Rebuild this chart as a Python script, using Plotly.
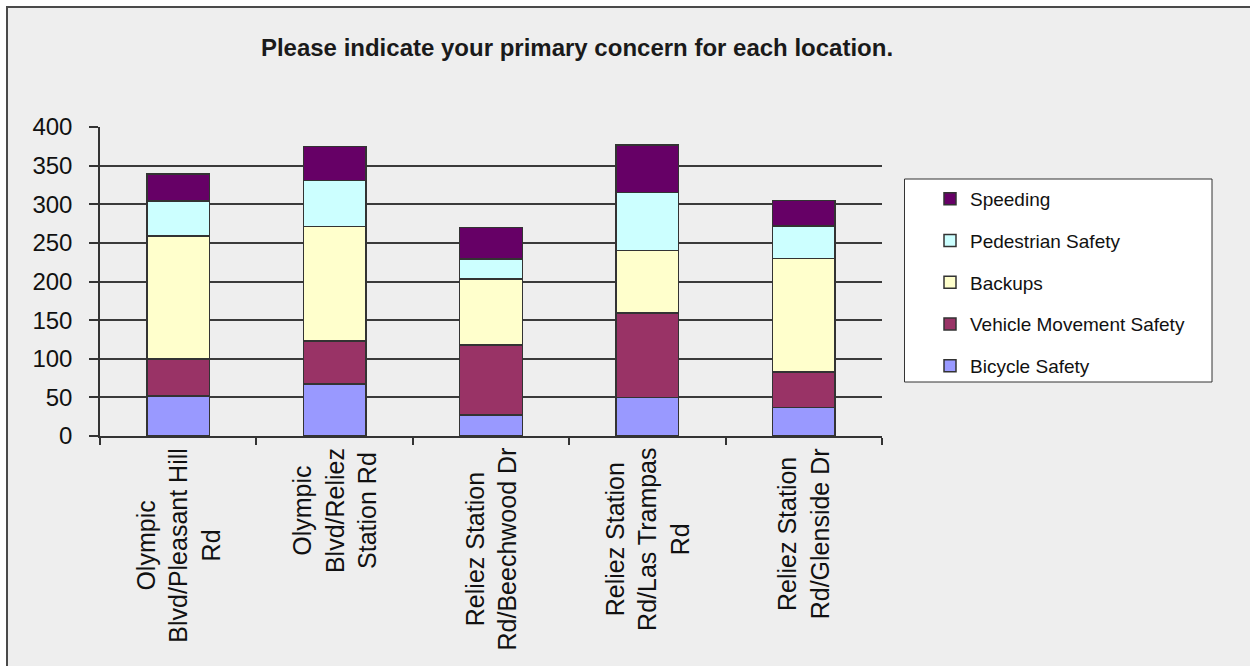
import plotly.graph_objects as go

# ---- data ----
categories = [
    "Olympic Blvd/Pleasant Hill Rd",
    "Olympic Blvd/Reliez Station Rd",
    "Reliez Station Rd/Beechwood Dr",
    "Reliez Station Rd/Las Trampas Rd",
    "Reliez Station Rd/Glenside Dr",
]
category_labels = [
    "Olympic<br>Blvd/Pleasant Hill<br>Rd",
    "Olympic<br>Blvd/Reliez<br>Station Rd",
    "Reliez Station<br>Rd/Beechwood Dr",
    "Reliez Station<br>Rd/Las Trampas<br>Rd",
    "Reliez Station<br>Rd/Glenside Dr",
]
bicycle_safety = [52, 67, 27, 50, 37]
vehicle_movement_safety = [48, 56, 91, 109, 46]
backups = [159, 148, 85, 81, 147]
pedestrian_safety = [45, 60, 26, 75, 42]
speeding = [35, 44, 41, 62, 33]

series = [
    ("Bicycle Safety", bicycle_safety, "#9999FF"),
    ("Vehicle Movement Safety", vehicle_movement_safety, "#993366"),
    ("Backups", backups, "#FFFFCC"),
    ("Pedestrian Safety", pedestrian_safety, "#CCFFFF"),
    ("Speeding", speeding, "#660066"),
]

FONT = "Liberation Sans, Arial, sans-serif"
W, H = 1250, 666
L, R, T, B = 100, 368, 127, 230
PW, PH = W - L - R, H - T - B


def px_x(p):
    return (p - L) / PW


def px_y(p):
    return (H - B - p) / PH


fig = go.Figure()
n = len(series)
for i, (name, vals, color) in enumerate(series):
    fig.add_trace(go.Bar(
        x=categories, y=vals, name=name, legendgroup=name,
        legendrank=(n - i) * 10,
        marker=dict(color=color, line=dict(color="#333333", width=1.5)),
    ))

shapes = [
    # chart area background with border at top/left
    dict(type="rect", xref="paper", yref="paper",
         x0=px_x(7), x1=px_x(1300), y0=px_y(720), y1=px_y(7),
         fillcolor="#EEEEEE", line=dict(color="#4a4a4a", width=2), layer="below"),
    # legend box
    dict(type="rect", xref="paper", yref="paper",
         x0=px_x(904.5), x1=px_x(1212), y0=px_y(382), y1=px_y(179),
         fillcolor="#FFFFFF", line=dict(color="#333333", width=1), layer="below"),
]

annotations = []
for cat, lab in zip(categories, category_labels):
    annotations.append(dict(
        x=cat, xref="x", y=0, yref="paper", yshift=-10,
        text=lab, textangle=-90, showarrow=False,
        xanchor="center", yanchor="top", align="center",
        font=dict(family=FONT, size=25, color="#111111"),
    ))

fig.update_layout(
    width=W, height=H,
    margin=dict(l=L, r=R, t=T, b=B, autoexpand=False),
    paper_bgcolor="#FFFFFF",
    plot_bgcolor="rgba(0,0,0,0)",
    barmode="stack",
    bargap=0.6,
    shapes=shapes,
    annotations=annotations,
    title=dict(
        text="<b>Please indicate your primary concern for each location.</b>",
        x=577 / W, xref="container", xanchor="center",
        y=1 - 48 / H, yref="container", yanchor="middle",
        font=dict(family=FONT, size=24, color="#1a1a1a"),
    ),
    legend=dict(
        x=px_x(930), xanchor="left", y=px_y(180), yanchor="top",
        traceorder="grouped", tracegroupgap=14,
        bgcolor="rgba(0,0,0,0)", borderwidth=0,
        font=dict(family=FONT, size=19, color="#111111"),
    ),
    xaxis=dict(
        type="category", showticklabels=False,
        showline=True, linecolor="#333333", linewidth=1.5,
        ticks="outside", tickson="boundaries", ticklen=7,
        tickcolor="#333333", tickwidth=1.5,
        showgrid=False, zeroline=False,
    ),
    yaxis=dict(
        range=[0, 400], dtick=50, tick0=0,
        showline=True, linecolor="#333333", linewidth=1.5,
        ticks="outside", ticklen=9, tickcolor="#333333", tickwidth=1.5,
        showgrid=True, gridcolor="#3a3a3a", gridwidth=1.5,
        zeroline=False, ticklabelstandoff=12,
        tickfont=dict(family=FONT, size=24, color="#111111"),
    ),
)

fig.write_html("out.html", config={"displayModeBar": False},
               post_script="document.body.style.margin='0';")
